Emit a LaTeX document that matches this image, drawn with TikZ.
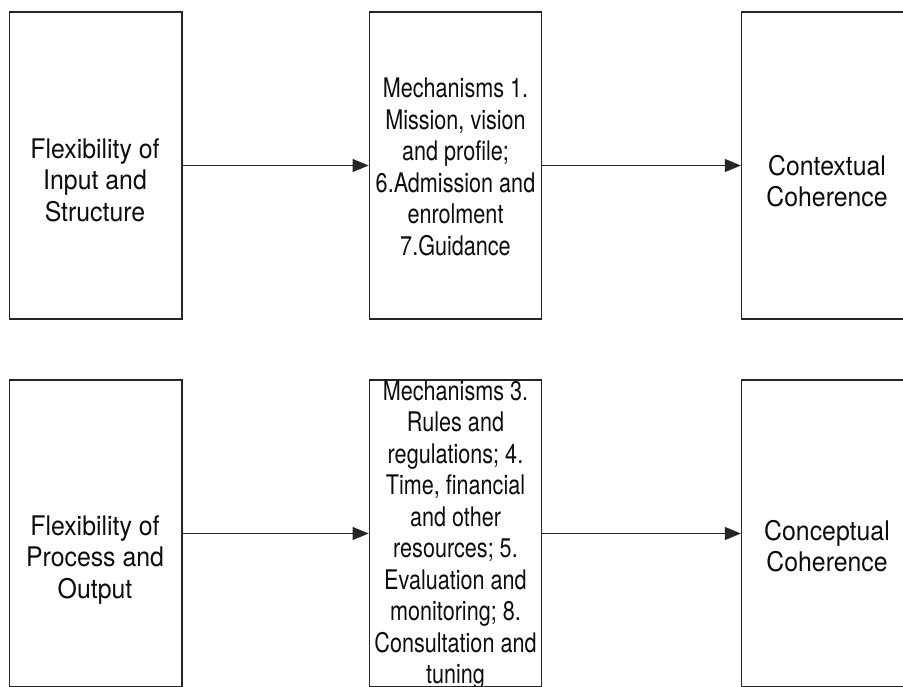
\documentclass[tikz,border=0pt]{standalone}
\usepackage{fontspec}
\setmainfont{TeX Gyre Heros}
\usetikzlibrary{arrows.meta}
\begin{document}
\begin{tikzpicture}[x=1pt,y=-1pt,
  box/.style={draw=black!85, line width=1.3pt, rectangle, inner sep=0pt,
    minimum width=#1, minimum height=307pt},
  box/.default=172.5pt,
  label/.style={align=center, inner sep=0pt,
    font=\fontsize{27}{31.5}\selectfont, text=black!95,
    xscale=0.92, transform shape},
  midlabel/.style={label, xscale=0.87},
  arr/.style={draw=black!85, line width=1.3pt,
    -{Triangle[length=16pt,width=13pt]}}]
  \useasboundingbox (0,0) rectangle (903,686);
  \clip (0,0) rectangle (903,686);

  % upper row
  \node[box] (lt) at (95.75,165.5) {};
  \node[box] (mt) at (455.5,165.5) {};
  \node[box=174pt] (rt) at (828.5,165.5) {};
  % lower row
  \node[box] (lb) at (95.75,533.5) {};
  \node[box] (mb) at (455.5,533.5) {};
  \node[box=174pt] (rb) at (828.5,533.5) {};

  % texts
  \node[label] (ltt) at (95,180) {Flexibility of\\Input and\\Structure};
  \node[midlabel] (mtt) at (455.5,167) {Mechanisms 1.\\Mission, vision\\and profile;\\6.Admission and\\enrolment\\7.Guidance};
  \node[label] (rtt) at (827,181) {Contextual\\Coherence};
  \node[label] (lbt) at (95,560) {Flexibility of\\Process and\\Output};
  \node[midlabel] (mbt) at (455.5,535) {Mechanisms 3.\\Rules and\\regulations; 4.\\Time, financial\\and other\\resources; 5.\\Evaluation and\\monitoring; 8.\\Consultation and\\tuning};
  \node[label] (rbt) at (827,546) {Conceptual\\Coherence};

  % connectors
  \draw[arr] (lt.east) -- (mt.west);
  \draw[arr] (mt.east) -- (rt.west);
  \draw[arr] (lb.east) -- (mb.west);
  \draw[arr] (mb.east) -- (rb.west);
\end{tikzpicture}
\end{document}
